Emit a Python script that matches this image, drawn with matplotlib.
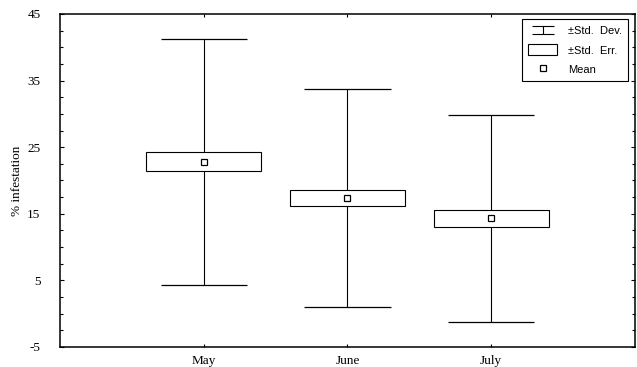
import matplotlib
matplotlib.use('Agg')
import matplotlib.pyplot as plt
from matplotlib.path import Path
from matplotlib.lines import Line2D
from matplotlib.patches import Rectangle
from matplotlib.ticker import MultipleLocator
import numpy as np

plt.rcParams['axes.unicode_minus'] = False

months = ['May', 'June', 'July']
means = [22.8, 17.4, 14.3]
std_err = [1.45, 1.2, 1.3]
std_dev = [18.5, 16.4, 15.5]

x = np.arange(1, len(months) + 1)
m = np.array(means)
se = np.array(std_err)
sd = np.array(std_dev)

fig = plt.figure(figsize=(6.37, 3.67), dpi=100)
ax = fig.add_axes([0.094, 0.0545, 0.903, 0.9075])

# whiskers (+-SD)
ax.vlines(x, m - sd, m + sd, color='black', lw=0.8, zorder=1)
ax.hlines(m + sd, x - 0.3, x + 0.3, color='black', lw=0.9, zorder=1)
ax.hlines(m - sd, x - 0.3, x + 0.3, color='black', lw=0.9, zorder=1)

# boxes (+-SE)
ax.bar(x, 2 * se, bottom=m - se, width=0.8, color='white',
       edgecolor='black', lw=0.8, zorder=2)

# means
ax.plot(x, m, ls='none', marker='s', ms=5, mfc='white', mec='black',
        mew=0.9, zorder=3)

ax.set_xlim(0, 4)
ax.set_ylim(-5, 45)
ax.set_xticks(x)
ax.set_xticklabels(months)
ax.set_yticks([-5, 5, 15, 25, 35, 45])
ax.yaxis.set_minor_locator(MultipleLocator(2.5))

serif = 'Liberation Serif'
for lab in ax.get_xticklabels() + ax.get_yticklabels():
    lab.set_family(serif)
    lab.set_fontsize(9.5)

ax.tick_params(axis='both', which='both', direction='in', top=True,
               right=True, width=0.8)
ax.tick_params(axis='y', which='major', length=3, pad=14)
ax.tick_params(axis='y', which='minor', length=2)
ax.tick_params(axis='x', which='major', length=2, pad=6)
for sp in ax.spines.values():
    sp.set_linewidth(1.1)

ax.set_ylabel('% infestation', family=serif, fontsize=9.5, labelpad=3)

# legend
ibeam = Path([(-1, 0.35), (1, 0.35), (0, 0.35), (0, -0.35),
              (-1, -0.35), (1, -0.35)],
             [Path.MOVETO, Path.LINETO, Path.MOVETO, Path.LINETO,
              Path.MOVETO, Path.LINETO])
h_sd = Line2D([], [], ls='none', marker=ibeam, ms=16, mec='black',
              mfc='none', mew=0.8)
h_se = Rectangle((0, 0), 1, 1, fc='white', ec='black', lw=0.8)
h_mean = Line2D([], [], ls='none', marker='s', ms=5, mfc='white',
                mec='black', mew=0.9)
leg = ax.legend([h_sd, h_se, h_mean],
                ['\u00b1Std.  Dev.', '\u00b1Std.  Err.', 'Mean'],
                loc='upper right', bbox_to_anchor=(0.988, 0.985),
                prop={'family': 'Liberation Sans', 'size': 8},
                fancybox=False, edgecolor='black', framealpha=1,
                handlelength=2.6, handleheight=1.1, labelspacing=0.75,
                borderpad=0.55, handletextpad=1.0, borderaxespad=0)
leg.get_frame().set_linewidth(0.8)

fig.savefig('out.png', dpi=100)
